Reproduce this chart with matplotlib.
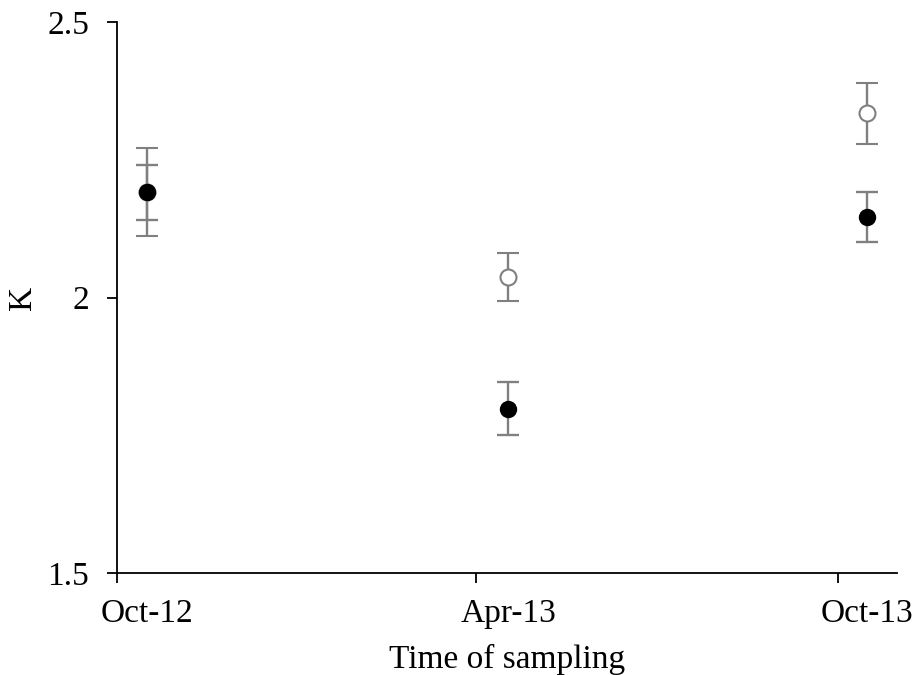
import matplotlib
matplotlib.use("Agg")
import matplotlib.pyplot as plt
import numpy as np
import datetime as dt

# sampling dates and condition factor K (mean +/- error)
dates = [dt.date(2012, 10, 16), dt.date(2013, 4, 17), dt.date(2013, 10, 16)]
k_open = [2.191, 2.037, 2.334]
err_open = [0.08, 0.044, 0.055]
k_filled = [2.191, 1.798, 2.146]
err_filled = [0.05, 0.048, 0.045]

tick_dates = [dt.date(2012, 10, 1), dt.date(2013, 4, 1), dt.date(2013, 10, 1)]
tick_labels = ["Oct-12", "Apr-13", "Oct-13"]

plt.rcParams['font.family'] = ['Liberation Serif', 'DejaVu Serif']

fig = plt.figure(figsize=(9.13, 6.75), dpi=100)
ax = fig.add_axes([0.1282, 0.1511, 0.8543, 0.8163])

ax.errorbar(dates, k_open, yerr=err_open, fmt='o', ms=11.5, mfc='white', mec='#808080',
            mew=1.5, ecolor='#808080', elinewidth=1.7, capsize=8, capthick=1.7, zorder=2)
ax.errorbar(dates, k_filled, yerr=err_filled, fmt='o', ms=11.5, mfc='black', mec='black',
            ecolor='#808080', elinewidth=1.7, capsize=8, capthick=1.7, zorder=3)

ax.set_ylim(1.5, 2.5)
ax.set_yticks([1.5, 2, 2.5])
ax.set_yticklabels(["1.5", "2", "2.5"])
ax.set_xlim(dt.date(2012, 10, 1), dt.date(2013, 10, 31))
# tick marks at month start, labels under the sampling points (Excel style)
ax.set_xticks(tick_dates)
ax.set_xticklabels([])
ax.set_xticks(dates, minor=True)
ax.set_xticklabels(tick_labels, minor=True)

for s in ['top', 'right']:
    ax.spines[s].set_visible(False)
for s in ['left', 'bottom']:
    ax.spines[s].set_linewidth(1.3)
ax.tick_params(axis='both', direction='out', length=7, width=1.3, labelsize=24)
ax.tick_params(axis='y', pad=13)
ax.tick_params(axis='x', which='minor', length=0, labelsize=24, pad=18)

ax.set_xlabel("Time of sampling", fontsize=24, labelpad=11)
ax.set_ylabel("K", fontsize=24, labelpad=7)

fig.savefig("out.png", dpi=100)
